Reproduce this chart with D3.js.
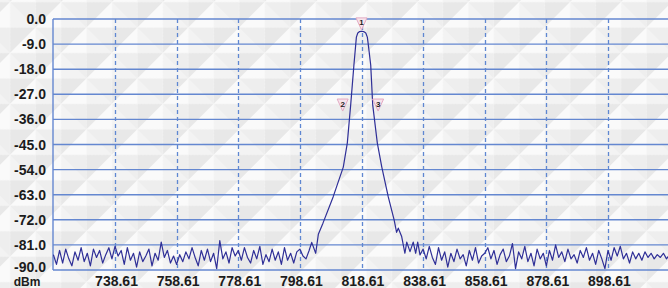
<!DOCTYPE html>
<html lang="en">
<head>
<meta charset="utf-8">
<title>Spectrum trace</title>
<style>
  body { margin: 0; }
  svg { display: block; }
  text { font-family: "Liberation Sans", Arial, sans-serif; font-weight: bold; fill: #1c1c1c; }
</style>
</head>
<body>
<svg width="668" height="288"></svg>
<script src="https://d3js.org/d3.v7.min.js"></script>
<script>
// y ticks (dBm) and x ticks (MHz)
var levelTicks = [0, -9, -18, -27, -36, -45, -54, -63, -72, -81, -90];
var freqTicks = [738.61, 758.61, 778.61, 798.61, 818.61, 838.61, 858.61, 878.61, 898.61];

// noise floor left of the carrier, 1 MHz apart starting at 718.61
var noiseLeftStart = 718.61;
var noiseLeft = [
  -84.5, -88.0, -83.0, -87.5, -82.5, -86.0, -88.5, -83.5, -86.5, -82.0,
  -87.0, -84.0, -88.5, -82.5, -85.5, -83.0, -87.5, -84.5, -82.0, -86.0,
  -81.5, -85.0, -83.0, -88.0, -82.0, -86.5, -84.0, -89.0, -83.5, -87.0,
  -85.0, -82.5, -88.5, -84.0, -86.5, -80.0, -85.5, -83.0, -87.5, -85.0,
  -88.0, -84.5, -87.0, -83.5, -86.0, -82.0, -85.5, -88.5, -83.0, -86.5,
  -82.5, -87.0, -84.0, -89.5, -79.5, -86.0, -83.5, -87.5, -82.0, -85.0,
  -83.0, -86.5, -82.0, -85.5, -87.5, -83.0, -86.0, -81.5, -88.0, -84.5,
  -87.0, -82.5, -86.5, -83.5, -88.0, -82.0, -86.5, -84.0, -87.5, -83.5,
  -82.5, -85.0, -86.0, -83.0
];

// carrier and skirts
var peakFreqs = [802.45, 803.75, 804.6, 806.1, 809.4, 812.7, 814.0, 815.1, 816.15, 816.75,
  816.95, 817.4, 818.0, 818.61, 819.3, 820.0, 820.5, 820.8, 821.6, 822.25,
  823.75, 825.2, 827.3, 829.2, 830.0, 830.55, 831.65, 832.7, 833.3, 834.35,
  835.4, 836.2, 836.85, 837.6];
var peakLevels = [-80.1, -84.0, -77.2, -73.2, -63.8, -53.1, -44.5, -30.8, -16.5, -9.0,
  -6.5, -5.0, -4.5, -4.4, -4.5, -5.0, -6.5, -9.0, -16.5, -30.8,
  -44.5, -53.1, -63.8, -72.0, -76.5, -75.0, -78.0, -84.0, -80.0, -83.4,
  -80.0, -84.0, -80.0, -84.6];

// noise floor right of the carrier, 1 MHz apart starting at 838.61
var noiseRightStart = 838.61;
var noiseRight = [
  -82.5, -86.0, -81.5, -85.5, -88.0, -82.0, -86.5, -83.5, -89.0, -84.0,
  -87.0, -82.5, -86.0, -84.5, -88.5, -83.0, -86.5, -82.0, -87.5, -85.0,
  -84.0, -82.0, -86.0, -83.0, -88.0, -84.5, -82.5, -87.0, -85.0, -80.5,
  -89.5, -83.5, -86.0, -81.5, -87.0, -84.0, -88.5, -82.5, -86.0, -84.0,
  -88.5, -83.0, -86.5, -81.0, -85.5, -83.5, -87.0, -82.5, -86.0, -84.5,
  -87.5, -83.0, -85.5, -82.0, -86.5, -84.0, -88.0, -83.0, -86.0, -89.5,
  -83.0, -86.5, -82.0, -85.0, -81.5, -86.0, -84.0, -87.5, -83.5, -86.0,
  -84.0, -86.5, -83.5, -85.5, -84.0, -86.0, -84.5, -85.5, -84.0, -86.0,
  -84.5
];

// markers (tip of the triangle)
var markerNames = ["1", "2", "3"];
var markerFreqs = [818.61, 812.5, 824.0];
var markerLevels = [-3.9, -33.0, -33.0];

var svg = d3.select("svg"),
    width = +svg.attr("width"),
    height = +svg.attr("height");

var x = d3.scaleLinear().domain([718.61, 918.61]).range([53.4, 669.6]);
var y = d3.scaleLinear().domain([-90, 0]).range([270, 19]);

// quilted diamond background, kept soft
var defs = svg.append("defs");
var s = 36;
var pat = defs.append("pattern")
  .attr("id", "quilt")
  .attr("patternUnits", "userSpaceOnUse")
  .attr("width", s).attr("height", s)
  .attr("patternTransform", "translate(10,2) rotate(45)");
var c = s / 2;
[
  [[0, 0], [0, s], [c, c], "#fafafa"],
  [[0, 0], [s, 0], [c, c], "#f3f3f3"],
  [[s, 0], [s, s], [c, c], "#e8e8e8"],
  [[0, s], [s, s], [c, c], "#eeeeee"]
].forEach(function(t) {
  pat.append("polygon")
    .attr("points", [t[0], t[1], t[2]].map(function(p) { return p.join(","); }).join(" "))
    .attr("fill", t[3]);
});
svg.append("rect").attr("width", width).attr("height", height).attr("fill", "url(#quilt)");

defs.append("clipPath").attr("id", "plot")
  .append("rect").attr("x", 53).attr("y", 0).attr("width", width - 53).attr("height", 272);

// horizontal grid lines
svg.append("g")
  .selectAll("line")
  .data(levelTicks)
  .enter().append("line")
    .attr("x1", 53).attr("x2", width)
    .attr("y1", function(d) { return y(d); })
    .attr("y2", function(d) { return y(d); })
    .attr("stroke", "#6487d0")
    .attr("stroke-width", 1.4);

// vertical dashed lines
svg.append("g")
  .selectAll("line")
  .data(freqTicks)
  .enter().append("line")
    .attr("x1", function(d) { return Math.round(x(d)) + 0.5; })
    .attr("x2", function(d) { return Math.round(x(d)) + 0.5; })
    .attr("y1", y(0)).attr("y2", y(-90))
    .attr("stroke", "#5f87d2")
    .attr("stroke-width", 1.3)
    .attr("stroke-dasharray", "4,3");

// left border
svg.append("line")
  .attr("x1", 53).attr("x2", 53)
  .attr("y1", y(0)).attr("y2", y(-90))
  .attr("stroke", "#6487d0").attr("stroke-width", 1.4);

// y labels (the bottom one sits a little higher, clear of the unit)
svg.append("g")
  .selectAll("text")
  .data(levelTicks)
  .enter().append("text")
    .attr("x", 46)
    .attr("y", function(d) { return y(d) + (d === -90 ? -3.5 : 0); })
    .attr("dy", "0.36em")
    .attr("text-anchor", "end")
    .attr("font-size", 14)
    .text(function(d) { return d.toFixed(1); });

// x labels
svg.append("g")
  .selectAll("text")
  .data(freqTicks)
  .enter().append("text")
    .attr("x", function(d) { return x(d) + 1.5; })
    .attr("y", 286)
    .attr("text-anchor", "middle")
    .attr("font-size", 14)
    .text(function(d) { return d.toFixed(2); });

svg.append("text")
  .attr("x", 27).attr("y", 285.5)
  .attr("text-anchor", "middle")
  .attr("font-size", 12)
  .text("dBm");

// trace
var trace = [];
noiseLeft.forEach(function(v, i) { trace.push([noiseLeftStart + i, v]); });
peakFreqs.forEach(function(f, i) { trace.push([f, peakLevels[i]]); });
noiseRight.forEach(function(v, i) { trace.push([noiseRightStart + i, v]); });

var line = d3.line()
  .x(function(d) { return x(d[0]); })
  .y(function(d) { return y(d[1]); });

svg.append("path")
  .datum(trace)
  .attr("clip-path", "url(#plot)")
  .attr("d", line)
  .attr("fill", "none")
  .attr("stroke", "#2f2f97")
  .attr("stroke-width", 1.2)
  .attr("stroke-linejoin", "round");

// markers
var mk = svg.append("g")
  .selectAll("g")
  .data(markerNames)
  .enter().append("g")
    .attr("transform", function(d, i) {
      return "translate(" + x(markerFreqs[i]) + "," + y(markerLevels[i]) + ")";
    });

mk.append("path")
  .attr("d", "M0,0L-5.5,-12L5.5,-12Z")
  .attr("fill", "#f6e4ec")
  .attr("stroke", "#e3a9c2")
  .attr("stroke-width", 1);

mk.append("text")
  .attr("x", 0).attr("y", -4.5)
  .attr("text-anchor", "middle")
  .attr("font-size", 8)
  .attr("fill", "#333")
  .text(function(d) { return d; });
</script>
</body>
</html>
